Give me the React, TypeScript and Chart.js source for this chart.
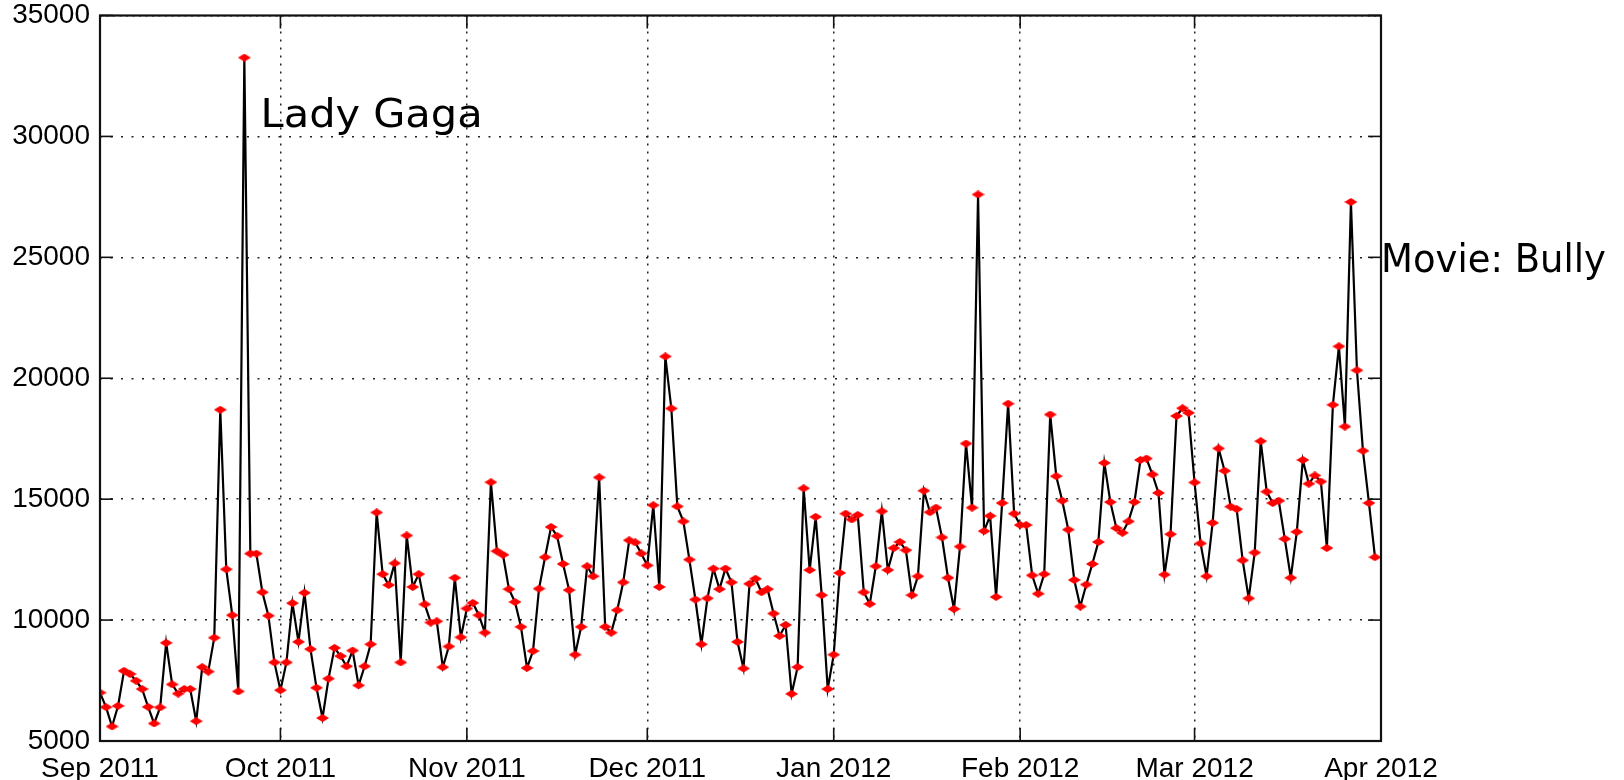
import React, { useEffect, useRef } from 'react';
import { Chart, registerables } from 'chart.js';

Chart.register(...registerables);

// x axis: day offset from 1 Sep 2011
const monthTickDays = [0, 30, 61, 91, 122, 153, 182, 213];
const monthTickLabels = ['Sep 2011', 'Oct 2011', 'Nov 2011', 'Dec 2011', 'Jan 2012', 'Feb 2012', 'Mar 2012', 'Apr 2012'];
const yTickValues = [5000, 10000, 15000, 20000, 25000, 30000, 35000];

// daily values, 1 Sep 2011 .. 31 Mar 2012
const dailyVolume = [
  7000, 6400, 5600, 6450, 7900, 7770, 7490, 7150, 6410, 5725,
  6390, 9060, 7340, 6960, 7150, 7150, 5820, 8055, 7870, 9270,
  18700, 12100, 10200, 7050, 33260, 12750, 12750, 11150, 10180, 8250,
  7100, 8250, 10700, 9100, 11130, 8800, 7200, 5950, 7580, 8850,
  8510, 8090, 8740, 7300, 8090, 9000, 14450, 11900, 11450, 12350,
  8250, 13500, 11370, 11900, 10650, 9900, 9950, 8050, 8910, 11750,
  9290, 10480, 10710, 10200, 9480, 15700, 12850, 12700, 11280, 10750,
  9720, 8020, 8720, 11300, 12600, 13850, 13475, 12320, 11240, 8570,
  9720, 12225, 11810, 15900, 9720, 9480, 10410, 11560, 13300, 13210,
  12755, 12260, 14750, 11370, 20900, 18750, 14700, 14080, 12500, 10850,
  9000, 10900, 12130, 11280, 12130, 11560, 9100, 8000, 11500, 11710,
  11150, 11280, 10270, 9345, 9800, 6950, 8055, 15450, 12070, 14270,
  11030, 7150, 8570, 11950, 14400, 14160, 14350, 11150, 10670, 12225,
  14500, 12070, 12980, 13230, 12890, 11030, 11810, 15350, 14460, 14650,
  13420, 11750, 10460, 13040, 17300, 14650, 27600, 13680, 14310, 10955,
  14840, 18950, 14400, 13930, 13930, 11850, 11090, 11900, 18500, 15950,
  14935, 13740, 11660, 10560, 11470, 12320, 13230, 16500, 14880, 13800,
  13610, 14080, 14880, 16620, 16680, 16020, 15260, 11880, 13550, 18440,
  18760, 18570, 15690, 13170, 11810, 14020, 17100, 16170, 14690, 14590,
  12470, 10900, 12790, 17400, 15310, 14840, 14935, 13360, 11750, 13650,
  16620, 15640, 15980, 15730, 12980, 18900, 21320, 18000, 27290, 20330,
  17000, 14840, 12600,
];

const annotationTexts = ['Lady Gaga', 'Movie: Bully'];
const annotationDays = [26.7, 213];
const annotationValues = [30400, 24400];
const annotationWidths = [222, 225];

const framePlugin = {
  id: 'frame',
  afterDraw(chart: any) {
    const { ctx, chartArea: a, scales } = chart;
    const xs = scales.x;
    const ys = scales.y;
    ctx.save();
    ctx.strokeStyle = '#111';
    ctx.lineWidth = 1.6;
    const tl = 13;
    const seg = (x1: number, y1: number, x2: number, y2: number) => {
      ctx.beginPath();
      ctx.moveTo(x1, y1);
      ctx.lineTo(x2, y2);
      ctx.stroke();
    };
    ys.ticks.forEach((t: any) => {
      const y = ys.getPixelForValue(t.value);
      seg(a.left, y, a.left + tl, y);
      seg(a.right, y, a.right - tl, y);
    });
    xs.ticks.forEach((t: any) => {
      const x = xs.getPixelForValue(t.value);
      seg(x, a.top, x, a.top + tl);
      seg(x, a.bottom, x, a.bottom - tl);
    });
    ctx.lineWidth = 2.2;
    ctx.strokeRect(a.left, a.top, a.right - a.left, a.bottom - a.top);

    ctx.fillStyle = '#000';
    ctx.font = "39px 'DejaVu Sans', sans-serif";
    ctx.textBaseline = 'alphabetic';
    ctx.textAlign = 'left';
    annotationTexts.forEach((txt, i) => {
      const x = xs.getPixelForValue(annotationDays[i]);
      const y = ys.getPixelForValue(annotationValues[i]);
      const w = ctx.measureText(txt).width;
      const sx = annotationWidths[i] / w;
      ctx.save();
      ctx.translate(x, y);
      ctx.scale(sx, 1);
      ctx.fillText(txt, 0, 0);
      ctx.restore();
    });
    ctx.restore();
  },
};

export default function App() {
  const ref = useRef<HTMLCanvasElement | null>(null);

  useEffect(() => {
    const canvas = ref.current;
    if (!canvas) return;

    const marker = document.createElement('canvas');
    marker.width = 13;
    marker.height = 8;
    const mctx = marker.getContext('2d')!;
    mctx.fillStyle = '#ff0000';
    mctx.beginPath();
    mctx.moveTo(6.5, 0);
    mctx.lineTo(13, 4);
    mctx.lineTo(6.5, 8);
    mctx.lineTo(0, 4);
    mctx.closePath();
    mctx.fill();

    const tickFont = { family: "'Liberation Sans', Arial, sans-serif", size: 28, lineHeight: 1 };

    const chart = new Chart(canvas, {
      type: 'line',
      data: {
        datasets: [
          {
            data: dailyVolume.map((v, i) => ({ x: i, y: v })),
            borderColor: '#000',
            borderWidth: 2.2,
            tension: 0,
            pointStyle: marker as any,
            pointRadius: 5,
            pointBackgroundColor: '#ff0000',
            pointBorderColor: '#ff0000',
          },
        ],
      },
      options: {
        responsive: false,
        animation: false,
        devicePixelRatio: 1,
        events: [],
        layout: { padding: { left: 0, right: 243, top: 15.5, bottom: 0 } },
        plugins: { legend: { display: false }, tooltip: { enabled: false } },
        scales: {
          x: {
            type: 'linear',
            min: 0,
            max: 213,
            afterBuildTicks: (scale: any) => {
              scale.ticks = monthTickDays.map((v) => ({ value: v }));
            },
            afterFit: (scale: any) => {
              scale.height = 39;
              scale.paddingLeft = 0;
              scale.paddingRight = 0;
            },
            ticks: {
              autoSkip: false,
              maxRotation: 0,
              padding: 14,
              color: '#000',
              font: tickFont,
              callback: (v: any) => {
                const idx = monthTickDays.indexOf(Number(v));
                return idx >= 0 ? monthTickLabels[idx] : '';
              },
            },
            grid: { color: '#222', lineWidth: 1.5, drawTicks: false },
            border: { display: false, dash: [2, 6] },
          },
          y: {
            type: 'linear',
            min: 5000,
            max: 35000,
            afterBuildTicks: (scale: any) => {
              scale.ticks = yTickValues.map((v) => ({ value: v }));
            },
            afterFit: (scale: any) => {
              scale.width = 100;
              scale.paddingTop = 0;
              scale.paddingBottom = 0;
            },
            ticks: {
              padding: 10,
              color: '#000',
              font: tickFont,
              callback: (v: any) => String(v),
            },
            grid: { color: '#222', lineWidth: 1.5, drawTicks: false },
            border: {
              display: false,
              dash: (c: any) => (c.tick && c.tick.value === 35000 ? [2, 4.5] : [2, 8.5]),
            },
          },
        },
      },
      plugins: [framePlugin],
    } as any);

    return () => chart.destroy();
  }, []);

  return (
    <div style={{ position: 'fixed', left: 0, top: 0, width: 1624, height: 780, background: '#fff' }}>
      <canvas ref={ref} width={1624} height={780} style={{ display: 'block', width: 1624, height: 780 }} />
    </div>
  );
}
